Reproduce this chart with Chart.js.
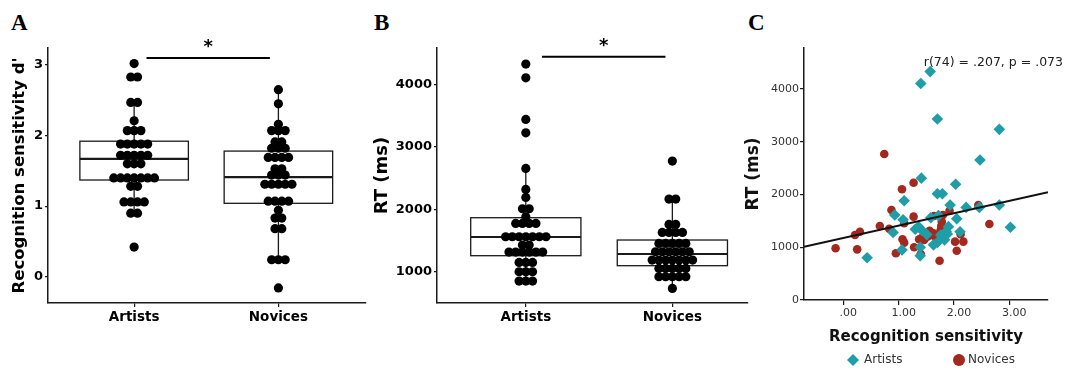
<!DOCTYPE html>
<html lang="en">
<head>
<meta charset="utf-8"/>
<title>Recognition sensitivity and RT: artists vs novices</title>
<style>
  body { margin: 0; background: #fff; width: 1068px; height: 369px; position: relative; overflow: hidden; }
  .panel { position: absolute; top: 0; height: 369px; }
  .tag { position: absolute; top: 11px; font-family: "Liberation Serif", serif; font-weight: bold; font-size: 23px; line-height: 1; color: #000; }
</style>
</head>
<body>
<div class="tag" style="left:11px">A</div>
<div class="tag" style="left:374px">B</div>
<div class="tag" style="left:748px">C</div>
<div class="panel" style="left:0;width:370px"><canvas id="chartA"></canvas></div>
<div class="panel" style="left:362px;width:390px"><canvas id="chartB"></canvas></div>
<div class="panel" style="left:740px;width:328px"><canvas id="chartC"></canvas></div>
<script src="https://cdn.jsdelivr.net/npm/chart.js"></script>
<script>
const groups = ["Artists", "Novices"];

// A: recognition sensitivity d', one value per participant
const dArtists = [3.02, 2.83, 2.83, 2.47, 2.47, 2.21, 2.07, 2.07, 2.07,
  1.88, 1.88, 1.88, 1.88, 1.88, 1.72, 1.72, 1.72, 1.72, 1.72, 1.60, 1.60, 1.60,
  1.40, 1.40, 1.40, 1.40, 1.40, 1.40, 1.40, 1.28, 1.28, 1.06, 1.06, 1.06, 1.06,
  0.90, 0.90, 0.42];
const dNovices = [2.65, 2.45, 2.16, 2.07, 2.07, 2.07, 1.91, 1.91, 1.82, 1.82, 1.82,
  1.69, 1.69, 1.69, 1.69, 1.53, 1.53, 1.44, 1.44, 1.44, 1.31, 1.31, 1.31, 1.31, 1.31,
  1.07, 1.07, 1.07, 1.07, 0.94, 0.83, 0.83, 0.68, 0.68, 0.24, 0.24, 0.24, -0.16];
// [lower whisker, q1, median, q3, upper whisker]
const dBox = [[0.90, 1.37, 1.67, 1.92, 2.47], [0.24, 1.04, 1.41, 1.78, 2.65]];
const dTicks = [0, 1, 2, 3];

// B: RT in ms
const rtArtists = [4323, 4104, 3438, 3224, 2654, 2318, 2190, 2008, 2008, 1880,
  1774, 1774, 1774, 1774, 1560, 1560, 1560, 1560, 1560, 1560, 1560, 1427, 1427,
  1315, 1315, 1315, 1315, 1315, 1315, 1150, 1150, 1150, 1000, 1000, 1000, 851, 851, 851];
const rtNovices = [2771, 2163, 2163, 1758, 1758, 1630, 1630, 1630, 1630,
  1454, 1454, 1454, 1454, 1454, 1320, 1320, 1320, 1320, 1320, 1320,
  1187, 1187, 1187, 1187, 1187, 1187, 1187, 1054, 1054, 1054, 1054, 1054,
  920, 920, 920, 920, 920, 734];
const rtBox = [[851, 1257, 1556, 1865, 2654], [734, 1097, 1284, 1508, 2163]];
const rtTicks = [1000, 2000, 3000, 4000];

// C: d' vs RT per participant
const artistsX = [1.57, 1.40, 1.70, 2.82, 2.47, 1.41, 2.03, 1.70, 1.79, 1.10, 1.93, 2.82, 2.22,
  2.46, 0.93, 1.08, 2.05, 3.02, 0.90, 1.06, 1.39, 0.43, 1.36, 1.42, 1.51, 1.90, 1.86, 1.80,
  1.70, 1.63, 2.11, 1.39, 1.88, 1.58, 1.76, 1.83, 1.30, 1.72];
const artistsY = [4330, 4105, 3430, 3235, 2655, 2310, 2195, 2015, 2015, 1880, 1800, 1800, 1755,
  1755, 1610, 1520, 1540, 1380, 1280, 950, 840, 800, 1390, 1320, 1240, 1390, 1300, 1190,
  1090, 1045, 1295, 1000, 1250, 1560, 1230, 1140, 1340, 1600];
const novicesX = [-0.14, 0.25, 0.21, 0.30, 0.74, 0.66, 0.83, 0.87, 0.95, 1.06, 1.10, 1.07, 1.10,
  1.27, 1.27, 1.28, 1.37, 1.40, 1.46, 1.52, 1.56, 1.64, 1.63, 1.68, 1.74, 1.76, 1.78, 1.80,
  1.92, 2.02, 2.05, 2.12, 2.17, 2.44, 2.64, 1.43, 1.60, 1.77];
const novicesY = [980, 960, 1232, 1295, 2768, 1403, 1352, 1706, 885, 2098, 1454, 1150, 1087,
  2224, 1580, 999, 1150, 872, 1137, 1200, 1314, 1592, 1264, 1170, 745, 1327, 1485, 1611,
  1693, 1106, 935, 1245, 1106, 1801, 1441, 1190, 1230, 1400];
const fitX = [-0.71, 3.70];
const fitY = [1010, 2042];
const scX = [0, 1, 2, 3];
const scXLabels = [".00", "1.00", "2.00", "3.00"];
const scY = [0, 1000, 2000, 3000, 4000];
const statNote = "r(74) = .207, p = .073";

const font = "'DejaVu Sans', sans-serif";
const ink = "#1a1a1a";
const teal = "#1f9ea8";
const brick = "#a3291f";

// spread equal values side by side like a centred dot plot
function dotRows(values, center, step) {
  const counts = new Map();
  values.forEach(v => counts.set(v, (counts.get(v) || 0) + 1));
  const pts = [];
  counts.forEach((n, v) => {
    for (let i = 0; i < n; i++) pts.push({ x: center + (i - (n - 1) / 2) * step, y: v });
  });
  return pts;
}

const boxPlugin = {
  id: "boxes",
  beforeDatasetsDraw(chart, args, o) {
    const { ctx, scales: { x, y } } = chart;
    ctx.save();
    ctx.strokeStyle = ink;
    o.stats.forEach((s, i) => {
      const cx = x.getPixelForValue(i + 1);
      const half = x.getPixelForValue(i + 1 + o.halfWidth) - cx;
      const [lo, q1, med, q3, hi] = s.map(v => y.getPixelForValue(v));
      ctx.lineWidth = 1.3;
      ctx.beginPath();
      ctx.moveTo(cx, lo); ctx.lineTo(cx, q1);
      ctx.moveTo(cx, q3); ctx.lineTo(cx, hi);
      ctx.stroke();
      ctx.fillStyle = "#fff";
      ctx.fillRect(cx - half, q3, 2 * half, q1 - q3);
      ctx.strokeRect(cx - half, q3, 2 * half, q1 - q3);
      ctx.lineWidth = 2.2;
      ctx.beginPath(); ctx.moveTo(cx - half, med); ctx.lineTo(cx + half, med); ctx.stroke();
    });
    // significance bar
    const x1 = x.getPixelForValue(o.sig[0]), x2 = x.getPixelForValue(o.sig[1]);
    const sy = y.getPixelForValue(o.sig[2]);
    ctx.strokeStyle = "#000"; ctx.lineWidth = 2;
    ctx.beginPath(); ctx.moveTo(x1, sy); ctx.lineTo(x2, sy); ctx.stroke();
    ctx.fillStyle = "#000"; ctx.font = "bold 18px " + font;
    ctx.textAlign = "center"; ctx.textBaseline = "alphabetic";
    ctx.fillText("*", (x1 + x2) / 2, sy - 6);
    ctx.restore();
  }
};

function axisCommon(size, weight, color, tickLen) {
  return {
    ticks: { color: color, font: { family: font, size: size, weight: weight }, padding: 2, maxRotation: 0, autoSkip: false },
    grid: { drawOnChartArea: false, tickLength: tickLen, color: ink, lineWidth: 1.2 },
    border: { color: ink, width: 1.5 }
  };
}

function boxChart(id, p) {
  const xa = axisCommon(13.5, "bold", "#000", 4);
  const ya = axisCommon(13, "bold", "#000", 3);
  return new Chart(document.getElementById(id), {
    type: "scatter",
    data: {
      datasets: [{
        data: dotRows(p.values[0], 1, p.step).concat(dotRows(p.values[1], 2, p.step)),
        pointRadius: 4.6, pointHoverRadius: 4.6, backgroundColor: "#000", borderWidth: 0
      }]
    },
    options: {
      animation: false, responsive: true, maintainAspectRatio: false,
      layout: { padding: { top: 48, right: p.padRight, bottom: 26, left: 0 } },
      plugins: {
        legend: { display: false }, tooltip: { enabled: false },
        boxes: { stats: p.box, halfWidth: 0.376, sig: p.sig }
      },
      scales: {
        x: Object.assign(xa, {
          type: "linear", min: p.xMin, max: p.xMax,
          afterBuildTicks: s => { s.ticks = groups.map((g, i) => ({ value: i + 1 })); },
          afterFit: s => { s.height = 40; }
        }),
        y: Object.assign(ya, {
          min: p.yMin, max: p.yMax,
          afterBuildTicks: s => { s.ticks = p.yTicks.map(v => ({ value: v })); },
          afterFit: s => { s.width = p.yWidth; },
          title: {
            display: true, text: p.yTitle, color: "#000",
            font: { family: font, size: p.titleSize, weight: "bold" },
            padding: { top: p.titlePad, bottom: 0 }
          }
        })
      }
    },
    plugins: [boxPlugin]
  }).options;
}

const optsA = boxChart("chartA", {
  values: [dArtists, dNovices], box: dBox, step: 0.047, sig: [1.086, 1.941, 3.10],
  xMin: 0.403, xMax: 2.603, yMin: -0.373, yMax: 3.241, yTicks: dTicks, yWidth: 48,
  yTitle: "Recognition sensitivity d'", titleSize: 16.5, titlePad: 10, padRight: 3
});
const optsB = boxChart("chartB", {
  values: [rtArtists, rtNovices], box: rtBox, step: 0.046, sig: [1.11, 1.953, 4442],
  xMin: 0.394, xMax: 2.512, yMin: 500, yMax: 4581, yTicks: rtTicks, yWidth: 75,
  yTitle: "RT (ms)", titleSize: 18, titlePad: 10, padRight: 2
});
// tick labels without thousands separators / with category names
[optsA, optsB].forEach(o => {
  o.scales.x.ticks.callback = (v, i) => groups[i];
  o.scales.y.ticks.callback = v => String(v);
});
Chart.getChart("chartA").update();
Chart.getChart("chartB").update();

const notePlugin = {
  id: "note",
  afterDraw(chart, args, o) {
    const { ctx, chartArea } = chart;
    ctx.save();
    ctx.textBaseline = "middle";
    o.items.forEach(it => {
      const ds = chart.data.datasets[it.dataset];
      const x = chartArea.left + it.dx, y = chartArea.bottom + o.dy, r = 6;
      ctx.fillStyle = ds.backgroundColor;
      ctx.beginPath();
      if (ds.pointStyle === "rectRot") {
        ctx.moveTo(x, y - r); ctx.lineTo(x + r, y); ctx.lineTo(x, y + r); ctx.lineTo(x - r, y); ctx.closePath();
      } else {
        ctx.arc(x, y, r, 0, Math.PI * 2);
      }
      ctx.fill();
      ctx.fillStyle = "#333"; ctx.font = "12px " + font; ctx.textAlign = "left";
      ctx.fillText(ds.label, x + it.gap, y);
    });
    ctx.fillStyle = "#222"; ctx.font = "12.5px " + font; ctx.textAlign = "right";
    ctx.fillText(o.text, chartArea.right + 15, chartArea.top + 15);
    ctx.restore();
  }
};

const xc = axisCommon(11, "normal", "#333", 5);
const yc = axisCommon(11, "normal", "#333", 4);
new Chart(document.getElementById("chartC"), {
  type: "scatter",
  data: {
    datasets: [
      { type: "line", label: "fit", data: fitX.map((x, i) => ({ x: x, y: fitY[i] })),
        borderColor: "#111", borderWidth: 2, pointRadius: 0, fill: false },
      { label: "Artists", data: artistsX.map((x, i) => ({ x: x, y: artistsY[i] })),
        pointStyle: "rectRot", pointRadius: 5.8, pointHoverRadius: 5.8, backgroundColor: teal, borderWidth: 0 },
      { label: "Novices", data: novicesX.map((x, i) => ({ x: x, y: novicesY[i] })),
        pointStyle: "circle", pointRadius: 4.3, pointHoverRadius: 4.3, backgroundColor: brick, borderWidth: 0 }
    ]
  },
  options: {
    animation: false, responsive: true, maintainAspectRatio: false,
    layout: { padding: { top: 48, right: 20, bottom: 19, left: 0 } },
    plugins: {
      legend: { display: false }, tooltip: { enabled: false },
      note: { text: statNote, dy: 60, items: [{ dataset: 1, dx: 49, gap: 11 }, { dataset: 2, dx: 155, gap: 9 }] }
    },
    scales: {
      x: Object.assign(xc, {
        type: "linear", min: -0.711, max: 3.70,
        afterBuildTicks: s => { s.ticks = scX.map(v => ({ value: v })); },
        afterFit: s => { s.height = 50; },
        title: { display: true, text: "Recognition sensitivity", color: "#111",
          font: { family: font, size: 15, weight: "bold" }, padding: { top: 0, bottom: 3.5 } }
      }),
      y: Object.assign(yc, {
        min: 0, max: 4777,
        afterBuildTicks: s => { s.ticks = scY.map(v => ({ value: v })); },
        afterFit: s => { s.width = 64; },
        title: { display: true, text: "RT (ms)", color: "#111",
          font: { family: font, size: 17, weight: "bold" }, padding: { top: 3, bottom: 0 } }
      })
    }
  },
  plugins: [notePlugin]
});
const cOpts = Chart.getChart("chartC").options;
cOpts.scales.x.ticks.callback = (v, i) => scXLabels[i];
cOpts.scales.x.ticks.labelOffset = 5;
cOpts.scales.x.ticks.padding = 2;
cOpts.scales.y.ticks.padding = 1;
cOpts.scales.y.ticks.callback = v => String(v);
Chart.getChart("chartC").update();
</script>
</body>
</html>
